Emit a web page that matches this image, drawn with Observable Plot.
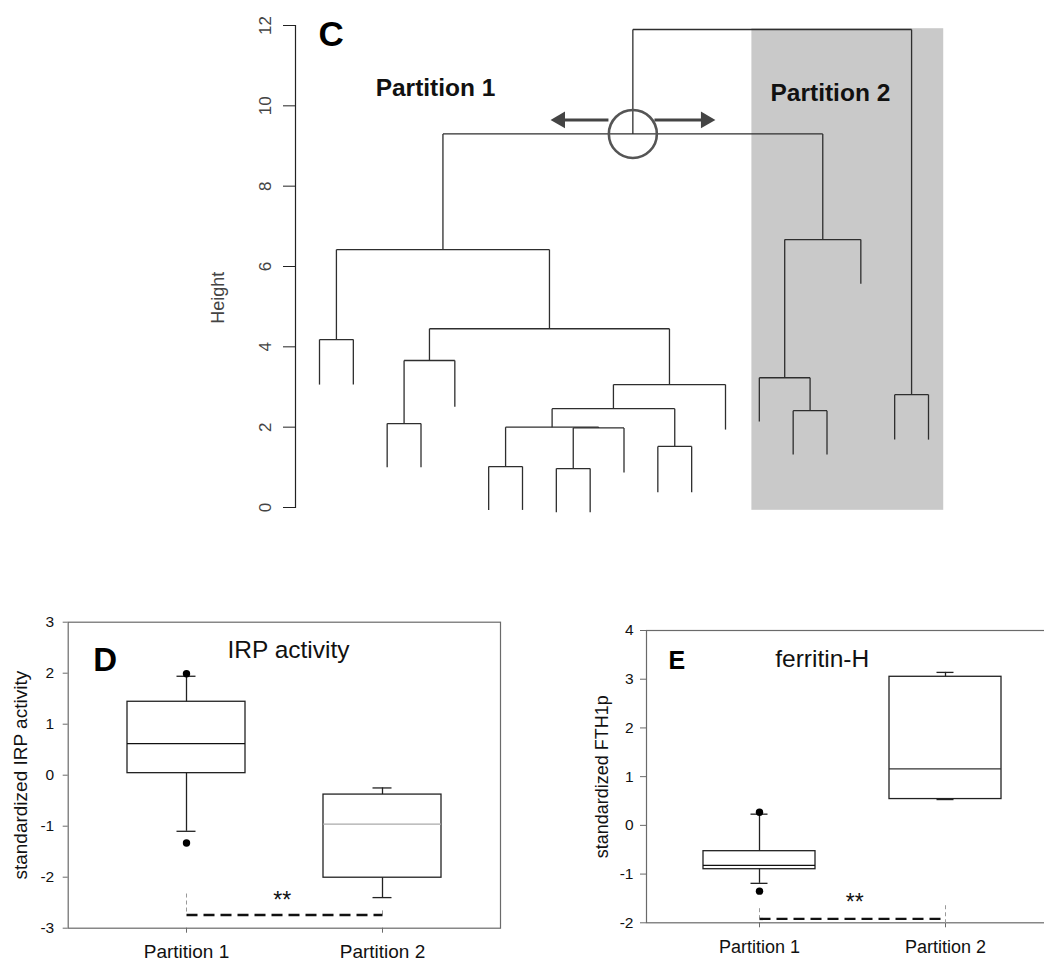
<!DOCTYPE html>
<html>
<head>
<meta charset="utf-8">
<script src="https://cdn.jsdelivr.net/npm/d3@7"></script>
<script src="https://cdn.jsdelivr.net/npm/@observablehq/plot@0.6"></script>
<style>
html, body { margin: 0; padding: 0; background: #fff; overflow: hidden; }
#page { position: relative; width: 1044px; height: 961px; overflow: hidden; background: #fff; font-family: "Liberation Sans", Arial, sans-serif; }
.panel { position: absolute; }
.panel svg { display: block; overflow: visible; }
</style>
</head>
<body>
<div id="page">
  <div class="panel" id="panelC" style="left:0px; top:0px; width:1044px;"></div>
  <div class="panel" id="panelD" style="left:0px; top:590px; width:520px;"></div>
  <div class="panel" id="panelE" style="left:520px; top:590px; width:560px;"></div>
</div>
<script>
// ---------------- Panel C : dendrogram ----------------
// leaves 1..19 in display order; bottom end of each leaf line (Height units)
const leafBottoms = [3.06, 3.06, 1.0, 1.0, 2.51, -0.06, -0.06, -0.12, -0.12, 0.87, 0.38, 0.38, 1.94, 2.14, 1.32, 1.32, 5.57, 1.69, 1.69];
// merges (children are leaf numbers or earlier merge ids)
const mergeIds    = ["a", "b", "c", "d", "e", "f", "g", "h", "i", "j", "k", "l", "m", "n", "o", "p", "q", "root"];
const mergeLeft   = ["1", "3", "b", "6", "8", "e", "d", "11", "g", "i", "c", "a", "15", "14", "n", "l", "18", "p"];
const mergeRight  = ["2", "4", "5", "7", "9", "10", "f", "12", "h", "13", "j", "k", "16", "m", "17", "o", "19", "q"];
const mergeHeight = [4.18, 2.09, 3.66, 1.02, 0.97, 1.98, 2.0, 1.52, 2.46, 3.06, 4.45, 6.42, 2.41, 3.23, 6.67, 9.3, 2.81, 11.9];
const heightTicks = [0, 2, 4, 6, 8, 10, 12];
const partitionNames = ["Partition 1", "Partition 2"];
const partitionLabelX = [4.43, 16.1];
const partitionLabelY = [10.43, 10.31];
const partition2Shade = {x1: 13.78, x2: 19.45, y1: -0.07, y2: 11.92};
const splitNodeId = "p";
const arrowHeight = 9.65;
const arrowTails = [9.54, 10.9];
const arrowShaftEnds = [8.15, 12.4];
const arrowTips = [7.83, 12.7];

// build dendrogram segments
const xPos = new Map(), hPos = new Map();
leafBottoms.forEach((b, i) => { xPos.set(String(i + 1), i + 1); hPos.set(String(i + 1), b); });
const segments = [];
mergeIds.forEach((id, i) => {
  const L = mergeLeft[i], R = mergeRight[i], h = mergeHeight[i];
  const xl = xPos.get(L), xr = xPos.get(R);
  segments.push({x1: xl, y1: h, x2: xr, y2: h});
  segments.push({x1: xl, y1: h, x2: xl, y2: hPos.get(L)});
  segments.push({x1: xr, y1: h, x2: xr, y2: hPos.get(R)});
  xPos.set(id, (xl + xr) / 2);
  hPos.set(id, h);
});
const splitNode = {x: xPos.get(splitNodeId), y: hPos.get(splitNodeId)};
const partLabels = partitionNames.map((t, i) => ({t, x: partitionLabelX[i], y: partitionLabelY[i]}));
const arrows = arrowTails.map((t, i) => ({tail: t, shaftEnd: arrowShaftEnds[i], tip: arrowTips[i], y: arrowHeight}));

const chartC = Plot.plot({
  width: 1044, height: 540,
  marginLeft: 295, marginTop: 25, marginBottom: 33, marginRight: 100,
  style: {fontFamily: '"Liberation Sans", Arial, sans-serif', background: "transparent"},
  x: {domain: [1, 19], range: [319, 928], axis: null},
  y: {domain: [0, 12]},
  marks: [
    Plot.rect([partition2Shade], {x1: "x1", x2: "x2", y1: "y1", y2: "y2", fill: "#c9c9c9"}),
    Plot.frame({anchor: "left", stroke: "#222", strokeWidth: 1.2}),
    Plot.axisY({ticks: heightTicks, tickSize: 12, tickPadding: 13, tickRotate: -90, fontSize: 17, fill: "#444", stroke: "#222", label: null}),
    Plot.text([{t: "Height", y: 5.22}], {text: "t", y: "y", frameAnchor: "left", dx: -72, rotate: -90, lineAnchor: "bottom", textAnchor: "middle", fontSize: 18, fill: "#444"}),
    Plot.link(segments, {x1: "x1", y1: "y1", x2: "x2", y2: "y2", stroke: "#2e2e2e", strokeWidth: 1.3}),
    Plot.text(partLabels, {x: "x", y: "y", text: "t", fontSize: 24.5, fontWeight: "bold", fill: "#111"}),
    Plot.text([{t: "C", x: 0.97, y: 11.49}], {x: "x", y: "y", text: "t", textAnchor: "start", lineAnchor: "bottom", fontSize: 35, fontWeight: "bold", fill: "#000"}),
    Plot.link(arrows, {x1: "tail", x2: "shaftEnd", y1: "y", y2: "y", stroke: "#444", strokeWidth: 3}),
    Plot.dot(arrows.slice(0, 1), {x: "tip", y: "y", symbol: "triangle", r: 6.2, rotate: -90, dx: 9.6, fill: "#444", stroke: "none"}),
    Plot.dot(arrows.slice(1), {x: "tip", y: "y", symbol: "triangle", r: 6.2, rotate: 90, dx: -9.6, fill: "#444", stroke: "none"}),
    Plot.dot([splitNode], {x: "x", y: "y", r: 24, stroke: "#555", strokeWidth: 2.6, fill: "none"})
  ]
});
document.getElementById("panelC").appendChild(chartC);

// ---------------- Panels D and E : box plots ----------------
const partitions = ["Partition 1", "Partition 2"];

// D : IRP activity
const irpLow    = [-1.10, -2.40];
const irpQ1     = [0.04, -2.01];
const irpMedian = [0.62, -0.96];
const irpQ3     = [1.44, -0.38];
const irpHigh   = [1.94, -0.25];
const irpMedianColor = ["#111", "#aaa"];
const irpOutlierGroup = ["Partition 1", "Partition 1"];
const irpOutlierValue = [1.99, -1.33];
const irpTicks = [-3, -2, -1, 0, 1, 2, 3];
const irpSignif = {y: -2.74, textY: -2.6, stub1: [-2.33, -2.74], stub2: [-2.66, -2.74]};

// E : ferritin-H
const fthLow    = [-1.19, 0.53];
const fthQ1     = [-0.90, 0.54];
const fthMedian = [-0.82, 1.16];
const fthQ3     = [-0.53, 3.05];
const fthHigh   = [0.23, 3.14];
const fthMedianColor = ["#111", "#333"];
const fthOutlierGroup = ["Partition 1", "Partition 1"];
const fthOutlierValue = [0.27, -1.35];
const fthTicks = [-2, -1, 0, 1, 2, 3, 4];
const fthSignif = {y: -1.92, textY: -1.74, stub1: [-1.71, -1.92], stub2: [-1.65, -2.07]};

function boxPanel(cfg) {
  const boxes = partitions.map((c, i) => ({c, lo: cfg.low[i], q1: cfg.q1[i], med: cfg.median[i], q3: cfg.q3[i], hi: cfg.high[i], mc: cfg.medianColor[i]}));
  const outliers = cfg.outGroup.map((c, i) => ({c, v: cfg.outValue[i]}));
  const sig = cfg.signif;
  const stubs = [
    {c: partitions[0], a: sig.stub1[0], b: sig.stub1[1]},
    {c: partitions[1], a: sig.stub2[0], b: sig.stub2[1]}
  ];
  const font = '"Liberation Sans", Arial, sans-serif';
  return Plot.plot({
    width: cfg.width, height: cfg.height,
    marginLeft: cfg.ml, marginRight: cfg.mr, marginTop: cfg.mt, marginBottom: cfg.mb,
    style: {fontFamily: font, background: "transparent"},
    x: {type: "band", domain: partitions, paddingInner: 0.4, paddingOuter: 0.3},
    y: {domain: cfg.domain},
    marks: [
      Plot.frame({stroke: "#6a6a6a", strokeWidth: 1.2}),
      Plot.axisY({ticks: cfg.ticks, tickFormat: d => String(d), tickSize: cfg.ytickSize, tickPadding: cfg.ytickPad, fontSize: 15.5, stroke: "#6a6a6a", fill: "#111", label: null}),
      Plot.axisX({tickSize: 5, tickPadding: cfg.xtickPad, fontSize: cfg.xFont, stroke: "#6a6a6a", fill: "#111", label: null}),
      Plot.text([cfg.ylabel], {frameAnchor: "left", dx: cfg.ylabelDx, rotate: -90, lineAnchor: "bottom", textAnchor: "middle", fontSize: cfg.ylabelFont, fill: "#111"}),
      Plot.ruleX(boxes, {x: "c", y1: "lo", y2: "hi", stroke: "#222", strokeWidth: 1.3}),
      Plot.tickY(boxes, {x: "c", y: "lo", insetLeft: cfg.capInset, insetRight: cfg.capInset, stroke: "#222", strokeWidth: 1.3}),
      Plot.tickY(boxes, {x: "c", y: "hi", insetLeft: cfg.capInset, insetRight: cfg.capInset, stroke: "#222", strokeWidth: 1.3}),
      Plot.barY(boxes, {x: "c", y1: "q1", y2: "q3", fill: "white", stroke: "#222", strokeWidth: 1.3}),
      ...boxes.map(b => Plot.tickY([b], {x: "c", y: "med", stroke: b.mc, strokeWidth: 1.2})),
      Plot.dot(outliers, {x: "c", y: "v", r: 3.7, fill: "#000", stroke: "none"}),
      Plot.ruleX(stubs, {x: "c", y1: "a", y2: "b", stroke: "#999", strokeWidth: 1, strokeDasharray: "4,3"}),
      Plot.link([sig], {x1: () => partitions[0], x2: () => partitions[1], y1: "y", y2: "y", stroke: "#111", strokeWidth: 2.4, strokeDasharray: "11,6"}),
      Plot.text([{t: "**", y: sig.textY}], {text: "t", y: "y", frameAnchor: "left", dx: cfg.starDx, textAnchor: "middle", lineAnchor: "bottom", fontSize: 23, fill: "#111"}),
      Plot.text([cfg.title], {frameAnchor: "top-left", dx: cfg.titleDx, dy: cfg.titleDy, textAnchor: "middle", lineAnchor: "bottom", fontSize: 24.5, fill: "#111"}),
      Plot.text([cfg.letter], {frameAnchor: "top-left", dx: cfg.letterDx, dy: cfg.letterDy, textAnchor: "start", lineAnchor: "bottom", fontSize: cfg.letterFont, fontWeight: "bold", fill: "#000"})
    ]
  });
}

const chartD = boxPanel({
  width: 520, height: 371, ml: 67.7, mr: 20, mt: 31.7, mb: 33.3,
  domain: [-3, 3], ticks: irpTicks, ytickSize: 5, ytickPad: 9, xtickPad: 11.5, xFont: 19,
  low: irpLow, q1: irpQ1, median: irpMedian, q3: irpQ3, high: irpHigh, medianColor: irpMedianColor,
  outGroup: irpOutlierGroup, outValue: irpOutlierValue, signif: irpSignif,
  capInset: 49.5,
  ylabel: "standardized IRP activity", ylabelDx: -40.7, ylabelFont: 19,
  title: "IRP activity", titleDx: 220.3, titleDy: 35.6,
  letter: "D", letterDx: 25, letterDy: 49, letterFont: 33,
  starDx: 214
});
document.getElementById("panelD").appendChild(chartD);

const chartE = boxPanel({
  width: 560, height: 371, ml: 126, mr: 23, mt: 40, mb: 38.7,
  domain: [-2, 4], ticks: fthTicks, ytickSize: 6, ytickPad: 7, xtickPad: 12, xFont: 18,
  low: fthLow, q1: fthQ1, median: fthMedian, q3: fthQ3, high: fthHigh, medianColor: fthMedianColor,
  outGroup: fthOutlierGroup, outValue: fthOutlierValue, signif: fthSignif,
  capInset: 47.5,
  ylabel: "standardized FTH1p", ylabelDx: -39, ylabelFont: 18,
  title: "ferritin-H", titleDx: 175.7, titleDy: 36.7,
  letter: "E", letterDx: 22, letterDy: 38.3, letterFont: 25,
  starDx: 208.3
});
document.getElementById("panelE").appendChild(chartE);
</script>
</body>
</html>
